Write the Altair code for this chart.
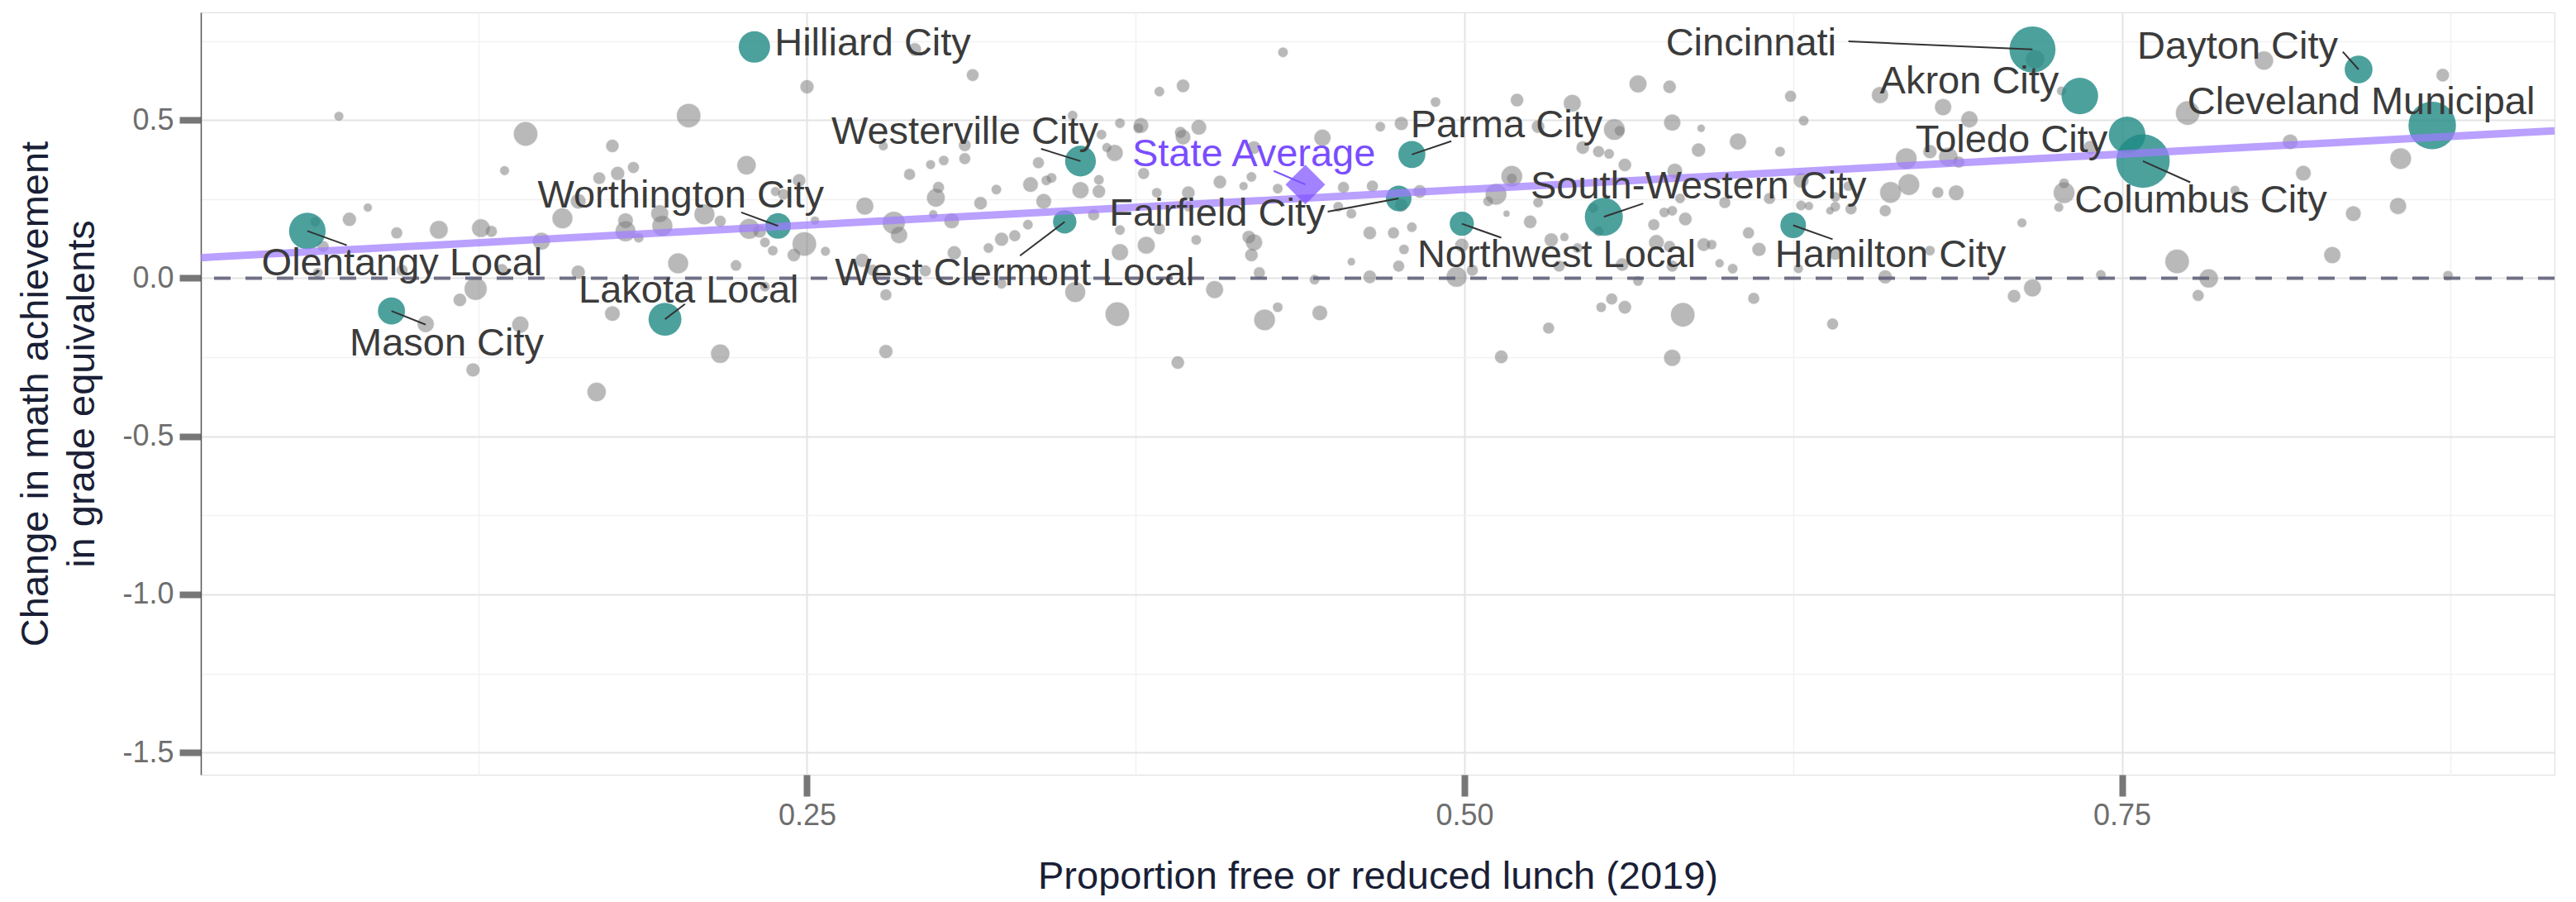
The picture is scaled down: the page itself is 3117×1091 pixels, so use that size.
import altair as alt
import pandas as pd

# ---------------- data ----------------
# Other Ohio districts (grey): FRL proportion, change in grade equivalents, enrollment
gray_frl = [
    0.072, 0.143, 0.135, 0.171, 0.163, 0.157, 0.083, 0.076, 0.063, 0.066, 0.094, 0.110, 0.126,
    0.130, 0.149, 0.064, 0.096, 0.134, 0.163, 0.124, 0.118, 0.105, 0.141, 0.123, 0.170,
    0.291, 0.313, 0.250, 0.205, 0.176, 0.227, 0.178, 0.184, 0.279, 0.310, 0.310, 0.297, 0.302,
    0.289, 0.300, 0.299, 0.322, 0.316, 0.298, 0.272, 0.283, 0.285, 0.305, 0.319, 0.324, 0.306,
    0.295, 0.271, 0.275, 0.280, 0.324, 0.280, 0.217, 0.176, 0.201, 0.223, 0.234, 0.228, 0.232,
    0.234, 0.237, 0.249, 0.245, 0.257, 0.253, 0.247, 0.241, 0.238, 0.211, 0.217, 0.194, 0.195,
    0.181, 0.181, 0.186,
    0.431, 0.393, 0.384, 0.351, 0.369, 0.377, 0.376, 0.392, 0.399, 0.393, 0.420, 0.446, 0.468,
    0.476, 0.362, 0.367, 0.364, 0.338, 0.335, 0.341, 0.343, 0.340, 0.354, 0.361, 0.361, 0.378,
    0.383, 0.395, 0.395, 0.407, 0.419, 0.416, 0.429, 0.454, 0.465, 0.457, 0.452, 0.476, 0.329,
    0.334, 0.359, 0.369, 0.384, 0.379, 0.369, 0.398, 0.418, 0.420, 0.419, 0.464, 0.473, 0.480,
    0.477, 0.475, 0.457, 0.443, 0.464, 0.422, 0.405, 0.352, 0.368, 0.424, 0.429, 0.445, 0.391,
    0.483, 0.489, 0.520, 0.541, 0.566, 0.578, 0.624, 0.629, 0.579, 0.590, 0.557, 0.559, 0.528,
    0.545, 0.551, 0.555, 0.604, 0.589, 0.620, 0.561, 0.580, 0.518, 0.518, 0.512, 0.509, 0.528,
    0.516, 0.525, 0.499, 0.497, 0.503, 0.551, 0.549, 0.533, 0.538, 0.543, 0.560, 0.536, 0.566,
    0.576, 0.579, 0.584, 0.572, 0.582, 0.573, 0.578, 0.579, 0.591, 0.594, 0.597, 0.602, 0.599,
    0.608, 0.612, 0.616, 0.628, 0.631, 0.628, 0.627, 0.556, 0.552, 0.561, 0.583, 0.532, 0.610,
    0.514, 0.579,
    0.717, 0.727, 0.658, 0.682, 0.692, 0.677, 0.668, 0.684, 0.688, 0.738, 0.669, 0.662, 0.680,
    0.687, 0.646, 0.641, 0.641, 0.647, 0.639, 0.660, 0.712, 0.728, 0.728, 0.726, 0.677, 0.641,
    0.660, 0.742, 0.716, 0.709, 0.771, 0.783, 0.779, 0.640, 0.775,
    0.804, 0.872, 0.814, 0.856, 0.819, 0.793, 0.838, 0.855, 0.830, 0.874,
]
gray_change = [
    0.512, 0.456, 0.340, 0.316, 0.243, 0.189, 0.223, 0.186, 0.178, 0.100, 0.143, 0.153, 0.158,
    0.148, 0.117, 0.017, 0.025, 0.027, 0.019, -0.034, -0.069, -0.145, -0.147, -0.290, -0.360,
    0.723, 0.642, 0.605, 0.514, 0.418, 0.357, 0.331, 0.350, 0.418, 0.420, 0.378, 0.359, 0.372,
    0.328, 0.287, 0.254, 0.280, 0.237, 0.202, 0.228, 0.175, 0.136, 0.181, 0.095, 0.123, 0.080,
    0.023, 0.056, 0.025, -0.053, -0.018, -0.232, -0.239, -0.112, 0.047, 0.040, -0.027, 0.156,
    0.148, 0.113, 0.087, 0.108, 0.073, 0.085, 0.182, 0.309, 0.265, 0.274, 0.202, 0.180, 0.204,
    0.165, 0.182, 0.148, 0.128,
    0.714, 0.608, 0.590, 0.514, 0.490, 0.483, 0.474, 0.461, 0.477, 0.446, 0.413, 0.444, 0.479,
    0.489, 0.454, 0.396, 0.413, 0.365, 0.296, 0.309, 0.317, 0.243, 0.278, 0.274, 0.311, 0.331,
    0.270, 0.270, 0.226, 0.304, 0.320, 0.291, 0.283, 0.287, 0.291, 0.204, 0.226, 0.230, 0.134,
    0.169, 0.200, 0.152, 0.156, 0.104, 0.082, 0.121, 0.130, 0.113, 0.073, 0.143, 0.143, 0.161,
    0.091, 0.038, 0.052, -0.005, 0.004, 0.017, -0.036, -0.044, -0.114, -0.132, -0.092, -0.110,
    -0.267,
    0.274, 0.557, 0.563, 0.553, 0.614, 0.605, 0.575, 0.498, 0.492, 0.474, 0.470, 0.466, 0.479,
    0.413, 0.400, 0.393, 0.432, 0.405, 0.400, 0.358, 0.339, 0.322, 0.315, 0.265, 0.243, 0.239,
    0.204, 0.178, 0.104, 0.004, 0.025, 0.148, 0.222, 0.121, 0.130, 0.095, 0.043, 0.038, -0.009,
    0.208, 0.213, 0.187, 0.169, 0.252, 0.113, 0.100, 0.038, 0.106, 0.106, 0.047, 0.030, 0.239,
    0.143, 0.091, 0.252, 0.230, 0.228, 0.309, 0.030, -0.066, -0.092, -0.092, -0.116, -0.158,
    -0.064, -0.249, -0.252,
    0.692, 0.592, 0.579, 0.541, 0.502, 0.400, 0.378, 0.383, 0.367, 0.413, 0.296, 0.271, 0.271,
    0.270, 0.291, 0.257, 0.226, 0.219, 0.213, 0.213, 0.175, 0.270, 0.300, 0.224, 0.087, 0.078,
    0.004, 0.010, -0.031, -0.057, 0.053, -0.001, -0.055, -0.145, 0.522,
    0.688, 0.642, 0.431, 0.378, 0.332, 0.278, 0.204, 0.228, 0.073, 0.008,
]
gray_enroll = [
    1300, 9200, 1300, 2300, 3600, 6600, 1100, 2900, 1500, 2000, 2000, 5200, 5200,
    2000, 4800, 1500, 2000, 2000, 2900, 8100, 2600, 4400, 4400, 2900, 5600,
    2600, 2300, 2900, 9200, 2600, 5600, 2900, 2000, 1300, 2300, 2000, 1300, 1500,
    2000, 2000, 5200, 1500, 2600, 1100, 4800, 8100, 4400, 3600, 1500, 2900, 2900,
    2000, 2900, 2000, 2000, 1500, 2900, 5600, 3600, 6600, 1800, 1500, 6600, 2600,
    1500, 1500, 9200, 2600, 1300, 1100, 2600, 1800, 1300, 6600, 2000, 4800, 6600,
    3600, 6600, 1500,
    1500, 2600, 1500, 1500, 1500, 3600, 1500, 2000, 3600, 3600, 2600, 4400, 1500,
    2900, 1500, 4400, 1300, 2000, 3600, 1500, 1500, 3600, 4400, 2600, 1500, 2000,
    1500, 2600, 1500, 2600, 1500, 1100, 1500, 2000, 2000, 1500, 1500, 2600, 2000,
    1500, 2000, 1500, 2000, 4800, 4400, 1500, 2600, 4400, 2600, 2600, 2000, 1500,
    1500, 2000, 900, 1500, 2600, 2000, 4800, 6600, 9200, 7100, 1500, 3600, 2600,
    2600, 1500, 2600, 4800, 4800, 2600, 2000, 1500, 4400, 900, 7100, 1500, 2600,
    2600, 2000, 1500, 4400, 2900, 1500, 2600, 3600, 7100, 1500, 7100, 1500, 1500,
    600, 2600, 2900, 6600, 2000, 1500, 1500, 2900, 1100, 1500, 2600, 2000, 1500,
    1500, 1500, 2600, 2000, 1500, 3600, 2000, 2000, 2600, 1500, 1100, 1500, 2000,
    2000, 2900, 2000, 1500, 1100, 3600, 1300, 2000, 1500, 2600, 9200, 2000, 2000,
    2600, 4400,
    5600, 1300, 4400, 4400, 4400, 2900, 7100, 5600, 2000, 2900, 7100, 7100, 2000,
    3600, 1500, 1500, 1500, 2000, 900, 2000, 1300, 7100, 1500, 1300, 1500, 2600,
    2900, 1500, 4800, 2600, 9200, 5600, 2000, 2000, 9200,
    5600, 2600, 3600, 7100, 3600, 1300, 3600, 4400, 4400, 1500,
]

# Highlighted (labelled) districts
district_names = [
    "Olentangy Local", "Mason City", "Lakota Local", "Worthington City", "Hilliard City",
    "Westerville City", "West Clermont Local", "Fairfield City", "Parma City",
    "Northwest Local", "South-Western City", "Hamilton City", "Cincinnati", "Akron City",
    "Toledo City", "Columbus City", "Dayton City", "Cleveland Municipal",
]
district_frl = [
    0.060, 0.092, 0.196, 0.239, 0.230, 0.354, 0.348, 0.475, 0.480,
    0.499, 0.553, 0.625, 0.716, 0.734, 0.752, 0.758, 0.840, 0.868,
]
district_change = [
    0.149, -0.104, -0.130, 0.165, 0.731, 0.370, 0.178, 0.252, 0.391,
    0.172, 0.194, 0.167, 0.723, 0.576, 0.453, 0.370, 0.660, 0.483,
]
district_enroll = [
    22500, 12300, 18200, 11000, 16600, 15900, 9200, 11000, 12300,
    9800, 24300, 11000, 35700, 22500, 22500, 48000, 13000, 38000,
]
# repelled label positions (centre of text)
label_frl = [
    0.096, 0.113, 0.205, 0.202, 0.275, 0.310, 0.329, 0.406, 0.516,
    0.535, 0.589, 0.662, 0.609, 0.692, 0.708, 0.780, 0.794, 0.841,
]
label_change = [
    0.045, -0.208, -0.041, 0.260, 0.742, 0.460, 0.015, 0.202, 0.483,
    0.071, 0.289, 0.071, 0.740, 0.620, 0.434, 0.244, 0.731, 0.555,
]
# end of the leader segment (None where no segment is drawn)
segment_frl = [
    0.075, 0.105, 0.2036, 0.225, None, 0.339, 0.331, 0.448, 0.495,
    0.514, 0.568, 0.640, 0.646, None, None, 0.776, 0.834, None,
]
segment_change = [
    0.104, -0.147, -0.082, 0.208, None, 0.409, 0.071, 0.210, 0.433,
    0.128, 0.236, 0.123, 0.749, None, None, 0.303, 0.716, None,
]

state_frl = [0.4395]
state_change = [0.296]
state_label_frl = [0.4199]
state_label_change = [0.391]
state_segment_frl = [0.4275]
state_segment_change = [0.339]

trend_frl = [0.0195, 0.9145]
trend_change = [0.0646, 0.466]

zero_line = [0.0]

x_ticks = [0.125, 0.25, 0.375, 0.5, 0.625, 0.75, 0.875]
y_ticks = [-1.5, -1.25, -1.0, -0.75, -0.5, -0.25, 0.0, 0.25, 0.5, 0.75]

# ---------------- tables ----------------
gray_df = pd.DataFrame({"frl": gray_frl, "change": gray_change, "enroll": gray_enroll})
dist_df = pd.DataFrame({
    "name": district_names, "frl": district_frl, "change": district_change,
    "enroll": district_enroll, "lx": label_frl, "ly": label_change,
    "sx": segment_frl, "sy": segment_change,
})
seg_df = dist_df.dropna(subset=["sx"])
state_df = pd.DataFrame({
    "name": ["State Average"], "frl": state_frl, "change": state_change,
    "lx": state_label_frl, "ly": state_label_change,
    "sx": state_segment_frl, "sy": state_segment_change,
})
trend_df = pd.DataFrame({"frl": trend_frl, "change": trend_change})
zero_df = pd.DataFrame({"change": zero_line})

FONT = "Liberation Sans"
x_scale = alt.Scale(domain=[0.0195, 0.9145], nice=False, zero=False)
y_scale = alt.Scale(domain=[-1.5702, 0.8403], nice=False, zero=False)
size_scale = alt.Scale(domain=[0, 48000], range=[0, 4183])

x_major = "abs(datum.value*4 - round(datum.value*4)) < 0.01"
y_major = "abs(datum.value*2 - round(datum.value*2)) < 0.01"

x_axis = alt.Axis(
    values=x_ticks,
    labelExpr=f"{x_major} ? format(datum.value, '.2f') : ''",
    title="Proportion free or reduced lunch (2019)",
    titleFontSize=47, titleFont=FONT, titleFontWeight="normal", titleColor="#1a1f36",
    titleX=1424, titleY=123, titleBaseline="middle", titleAnchor="middle",
    labelFontSize=36, labelFont=FONT, labelColor="#6e6e6e", labelPadding=6,
    tickSize=26, tickWidth=8, tickColor="#777777",
    tickOpacity={"condition": {"test": x_major, "value": 1}, "value": 0},
    grid=True,
    gridColor={"condition": {"test": x_major, "value": "#e4e4e4"}, "value": "#f1f1f1"},
    gridWidth={"condition": {"test": x_major, "value": 2}, "value": 1.5},
    domain=False, labelFlush=False, labelOverlap=False,
)
y_axis = alt.Axis(
    values=y_ticks,
    labelExpr=f"{y_major} ? replace(format(datum.value, '.1f'), '−', '-') : ''",
    title=["Change in math achievement", "in grade equivalents"],
    titleFontSize=47, titleFont=FONT, titleFontWeight="normal", titleColor="#1a1f36",
    titleLineHeight=56, titleAngle=270, titleX=-176, titleY=461,
    titleAlign="center", titleBaseline="bottom",
    labelFontSize=36, labelFont=FONT, labelColor="#6e6e6e", labelPadding=7,
    tickSize=26, tickWidth=8, tickColor="#777777",
    tickOpacity={"condition": {"test": y_major, "value": 1}, "value": 0},
    grid=True,
    gridColor={"condition": {"test": y_major, "value": "#e4e4e4"}, "value": "#f1f1f1"},
    gridWidth={"condition": {"test": y_major, "value": 2}, "value": 1.5},
    domain=True, domainColor="#555555", domainWidth=1.5,
    labelOverlap=False, labelFlush=False,
)

gray_pts = alt.Chart(gray_df).mark_circle(
    color="#7a7a7a", opacity=0.52, stroke="#6f6f6f", strokeWidth=1.5, strokeOpacity=0.3
).encode(
    x=alt.X("frl:Q", scale=x_scale, axis=x_axis),
    y=alt.Y("change:Q", scale=y_scale, axis=y_axis),
    size=alt.Size("enroll:Q", scale=size_scale, legend=None),
)

zero_rule = alt.Chart(zero_df).mark_rule(
    color="#62627a", strokeWidth=4, strokeDash=[20, 18], opacity=0.9
).encode(y=alt.Y("change:Q", scale=y_scale))

teal_pts = alt.Chart(dist_df).mark_circle(
    color="#1f8a85", opacity=0.8
).encode(
    x=alt.X("frl:Q", scale=x_scale),
    y=alt.Y("change:Q", scale=y_scale),
    size=alt.Size("enroll:Q", scale=size_scale, legend=None),
)

trend = alt.Chart(trend_df).mark_line(
    color="#9f7bff", strokeWidth=9, opacity=0.72
).encode(
    x=alt.X("frl:Q", scale=x_scale),
    y=alt.Y("change:Q", scale=y_scale),
)

segments = alt.Chart(seg_df).mark_rule(color="#333333", strokeWidth=2).encode(
    x=alt.X("frl:Q", scale=x_scale), y=alt.Y("change:Q", scale=y_scale),
    x2="sx:Q", y2="sy:Q",
)

labels = alt.Chart(dist_df).mark_text(
    font=FONT, fontSize=47, color="#3b3b3b", align="center", baseline="middle"
).encode(
    x=alt.X("lx:Q", scale=x_scale), y=alt.Y("ly:Q", scale=y_scale), text="name:N",
)

state_pt = alt.Chart(state_df).mark_point(
    shape="diamond", filled=True, color="#7c4dff", opacity=0.7, size=2300
).encode(
    x=alt.X("frl:Q", scale=x_scale), y=alt.Y("change:Q", scale=y_scale),
)

state_seg = alt.Chart(state_df).mark_rule(color="#7a50ff", strokeWidth=2).encode(
    x=alt.X("frl:Q", scale=x_scale), y=alt.Y("change:Q", scale=y_scale),
    x2="sx:Q", y2="sy:Q",
)

state_label = alt.Chart(state_df).mark_text(
    font=FONT, fontSize=47, color="#7a4dff", align="center", baseline="middle"
).encode(
    x=alt.X("lx:Q", scale=x_scale), y=alt.Y("ly:Q", scale=y_scale), text="name:N",
)

chart = alt.layer(
    gray_pts, zero_rule, teal_pts, trend, segments, labels, state_pt, state_seg, state_label
).properties(
    width=2848, height=922,
    autosize=alt.AutoSizeParams(type="none"),
    padding={"left": 235, "top": 7, "right": 18, "bottom": 146},
    background="white",
).configure_view(
    stroke="#bcbcbc", strokeWidth=2
).configure(font=FONT)

chart.save("out.html", embed_options={"renderer": "svg", "actions": False})
